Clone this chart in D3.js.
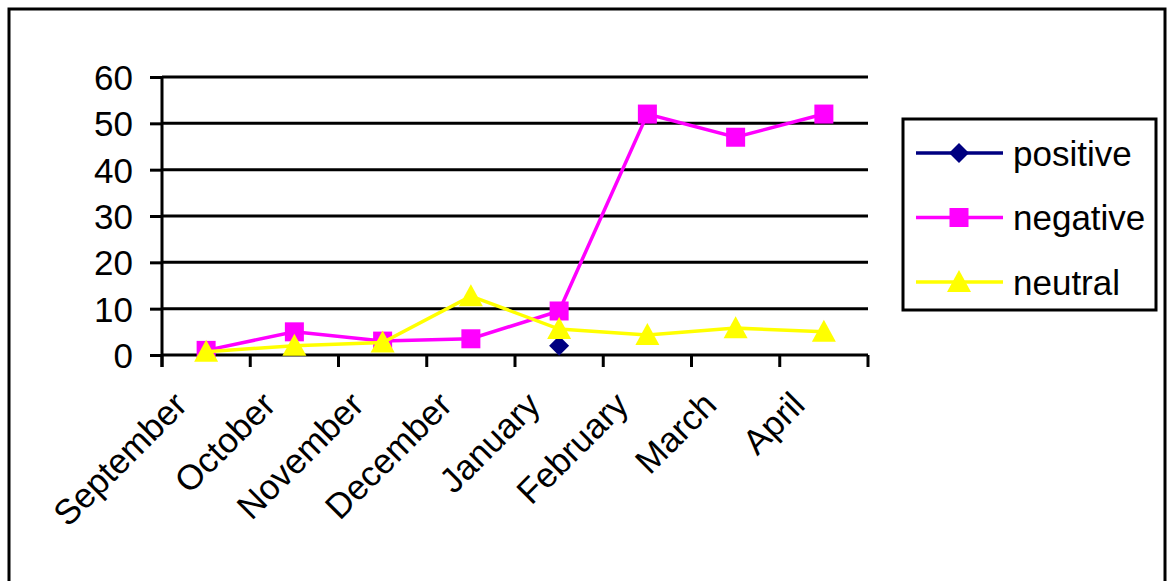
<!DOCTYPE html>
<html>
<head>
<meta charset="utf-8">
<script src="https://cdn.jsdelivr.net/npm/d3@7"></script>
<style>
  body { margin: 0; background: #fff; }
  svg text { font-family: "Liberation Sans", Arial, sans-serif; fill: #000; }
</style>
</head>
<body>
<svg id="chart" width="1167" height="581"></svg>
<script>
// monthly counts per sentiment
const months = ["September", "October", "November", "December", "January", "February", "March", "April"];
const positive = [null, null, null, null, 2, null, null, null];
const negative = [1, 5, 3, 3.5, 9.5, 52, 47, 52];
const neutral = [0.7, 2, 2.7, 12.7, 5.6, 4.3, 5.8, 5];
const yTicks = [0, 10, 20, 30, 40, 50, 60];

const series = [
    { name: "positive", values: positive, color: "#000080", shape: "diamond" },
    { name: "negative", values: negative, color: "#ff00ff", shape: "square" },
    { name: "neutral", values: neutral, color: "#ffff00", shape: "triangle" },
];

const svg = d3.select("#chart");
const fontSize = 35;

// outer frame
svg.append("rect")
    .attr("x", 9).attr("y", 9)
    .attr("width", 1156).attr("height", 600)
    .attr("fill", "none").attr("stroke", "#000").attr("stroke-width", 3);

const x = d3.scaleBand().domain(months).range([162, 868]);
const y = d3.scaleLinear().domain([0, 60]).range([355, 77]);

// gridlines
svg.append("g")
    .selectAll("line")
    .data(yTicks.slice(1))
    .join("line")
    .attr("x1", 162).attr("x2", 868)
    .attr("y1", d => y(d)).attr("y2", d => y(d))
    .attr("stroke", "#000").attr("stroke-width", 3);

// y axis
const yAxis = svg.append("g")
    .attr("transform", "translate(162,0)")
    .call(d3.axisLeft(y).tickValues(yTicks).tickSize(12).tickPadding(17));
yAxis.select(".domain").attr("stroke-width", 3).attr("d", `M0,${y(60)}V${y(0) + 12}`);
yAxis.selectAll(".tick line").attr("stroke-width", 3);
yAxis.selectAll("text").style("font-size", fontSize + "px").attr("dy", "0.36em");

// x axis with ticks between categories
const xAxis = svg.append("g").attr("transform", `translate(0,${y(0)})`);
xAxis.append("line")
    .attr("x1", 162).attr("x2", 868)
    .attr("stroke", "#000").attr("stroke-width", 3);
const edges = months.map(m => x(m)).concat([x.range()[1]]);
xAxis.selectAll(".xt")
    .data(edges)
    .join("line")
    .attr("class", "xt")
    .attr("x1", d => d).attr("x2", d => d)
    .attr("y1", 0).attr("y2", 12)
    .attr("stroke", "#000").attr("stroke-width", 3);
xAxis.selectAll(".xl")
    .data(months)
    .join("text")
    .attr("class", "xl")
    .attr("text-anchor", "end")
    .attr("transform", d => `translate(${x(d) + x.bandwidth() / 2 - 17},${52}) rotate(-45)`)
    .style("font-size", fontSize + "px")
    .text(d => d);

const cx = m => x(m) + x.bandwidth() / 2;

function marker(sel, shape, color) {
    if (shape === "square") {
        sel.append("rect").attr("x", -9.5).attr("y", -9.5).attr("width", 19).attr("height", 19)
            .attr("fill", color);
    } else if (shape === "triangle") {
        sel.append("path").attr("d", "M0,-12L12,10L-12,10Z").attr("fill", color);
    } else {
        sel.append("path").attr("d", "M0,-10L10,0L0,10L-10,0Z").attr("fill", color);
    }
}

const line = d3.line()
    .defined(d => d[1] !== null)
    .x(d => cx(d[0]))
    .y(d => y(d[1]));

series.forEach(s => {
    const pts = months.map((m, i) => [m, s.values[i]]);
    svg.append("path")
        .datum(pts)
        .attr("d", line)
        .attr("fill", "none")
        .attr("stroke", s.color)
        .attr("stroke-width", 3.5);
    svg.append("g")
        .selectAll("g")
        .data(pts.filter(d => d[1] !== null))
        .join("g")
        .attr("transform", d => `translate(${cx(d[0])},${y(d[1])})`)
        .each(function () { marker(d3.select(this), s.shape, s.color); });
});

// legend
const legend = svg.append("g");
legend.append("rect")
    .attr("x", 903).attr("y", 119)
    .attr("width", 253).attr("height", 191)
    .attr("fill", "#fff").attr("stroke", "#000").attr("stroke-width", 3);
const legendY = d3.scalePoint().domain(series.map(s => s.name)).range([153, 282]);
series.forEach(s => {
    const g = legend.append("g").attr("transform", `translate(0,${legendY(s.name)})`);
    g.append("line").attr("x1", 916).attr("x2", 1003)
        .attr("stroke", s.color).attr("stroke-width", 3.5);
    marker(g.append("g").attr("transform", "translate(959,0)"), s.shape, s.color);
    g.append("text").attr("x", 1013).attr("dy", "0.36em")
        .style("font-size", fontSize + "px").text(s.name);
});
</script>
</body>
</html>
